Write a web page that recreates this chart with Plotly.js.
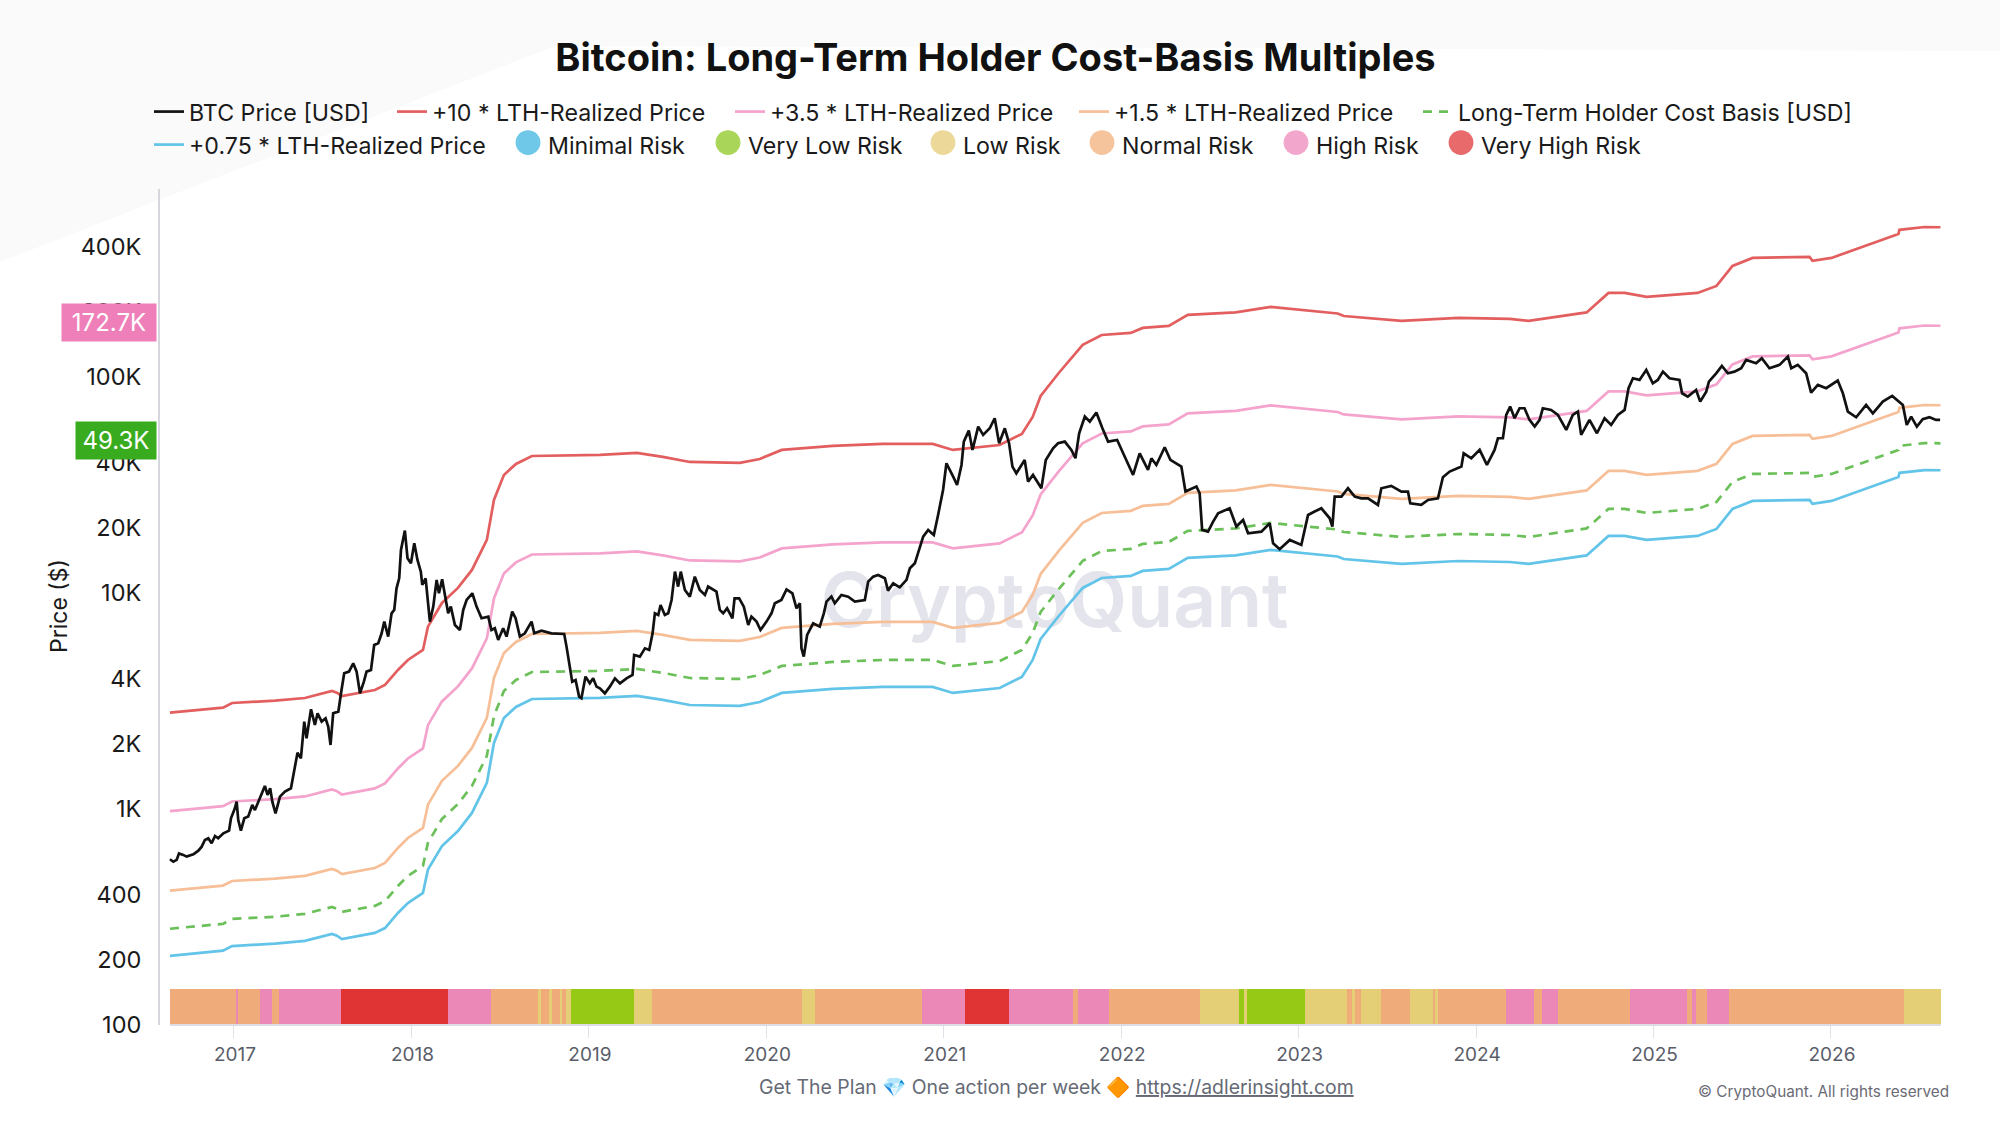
<!DOCTYPE html>
<html>
<head>
<meta charset="utf-8">
<title>Bitcoin: Long-Term Holder Cost-Basis Multiples</title>
<script src="https://cdn.plot.ly/plotly-3.0.1.min.js"></script>
<style>
    html, body { margin: 0; padding: 0; background: #ffffff; }
    #chart { width: 2000px; height: 1125px; }
</style>
</head>
<body>
<div id="chart"></div>
<script>
// x values are decimal years
const lthYears = [2016.639, 2016.938, 2016.989, 2017.231, 2017.400, 2017.552, 2017.580, 2017.608, 2017.794, 2017.851, 2017.924, 2017.980, 2018.065, 2018.093, 2018.172, 2018.262, 2018.341, 2018.425, 2018.465, 2018.521, 2018.589, 2018.679, 2019.062, 2019.270, 2019.417, 2019.569, 2019.851, 2019.963, 2020.087, 2020.375, 2020.656, 2020.938, 2021.051, 2021.315, 2021.440, 2021.501, 2021.546, 2021.648, 2021.783, 2021.890, 2022.054, 2022.121, 2022.268, 2022.375, 2022.645, 2022.842, 2023.220, 2023.254, 2023.580, 2023.900, 2024.190, 2024.296, 2024.623, 2024.746, 2024.837, 2024.961, 2025.248, 2025.355, 2025.445, 2025.558, 2025.879, 2025.896, 2026.003, 2026.380, 2026.386, 2026.527, 2026.617];

const plus10 = [2791, 2944, 3095, 3172, 3265, 3517, 3454, 3335, 3556, 3750, 4400, 4896, 5448, 6983, 8990, 10550, 12780, 17600, 26950, 35180, 39560, 43060, 43550, 44500, 42660, 40400, 39990, 41700, 45930, 47930, 48960, 48960, 45930, 48420, 54460, 65280, 81660, 104300, 140700, 156400, 159900, 168600, 172200, 193700, 198900, 210900, 196600, 191500, 181700, 187500, 185500, 181700, 198900, 244900, 244900, 234600, 244900, 263900, 326600, 355600, 359400, 344700, 355600, 459200, 479600, 494300, 493000];

const plus35 = [977, 1030, 1083, 1110, 1143, 1231, 1209, 1167, 1245, 1313, 1540, 1714, 1907, 2444, 3147, 3693, 4473, 6160, 9433, 12310, 13850, 15070, 15240, 15580, 14930, 14140, 14000, 14600, 16080, 16780, 17140, 17140, 16080, 16950, 19060, 22850, 28580, 36510, 49250, 54740, 55970, 59010, 60270, 67800, 69620, 73820, 68810, 67030, 63600, 65630, 64930, 63600, 69620, 85720, 85720, 82110, 85720, 92370, 114300, 124500, 125800, 120600, 124500, 160700, 167900, 173000, 172600];

const plus15 = [419, 442, 464, 476, 490, 528, 518, 500, 533, 563, 660, 734, 817, 1047, 1349, 1583, 1917, 2640, 4043, 5277, 5934, 6459, 6533, 6675, 6399, 6060, 5999, 6255, 6890, 7190, 7344, 7344, 6890, 7263, 8169, 9792, 12250, 15650, 21110, 23460, 23990, 25290, 25830, 29060, 29840, 31640, 29490, 28730, 27260, 28130, 27830, 27260, 29840, 36740, 36740, 35190, 36740, 39590, 48990, 53340, 53910, 51710, 53340, 68880, 71940, 74150, 73950];

const lthCostBasis = [279, 294, 310, 317, 327, 352, 345, 334, 356, 375, 440, 490, 545, 698, 899, 1055, 1278, 1760, 2695, 3518, 3956, 4306, 4355, 4450, 4266, 4040, 3999, 4170, 4593, 4793, 4896, 4896, 4593, 4842, 5446, 6528, 8166, 10430, 14070, 15640, 15990, 16860, 17220, 19370, 19890, 21090, 19660, 19150, 18170, 18750, 18550, 18170, 19890, 24490, 24490, 23460, 24490, 26390, 32660, 35560, 35940, 34470, 35560, 45920, 47960, 49430, 49300];

const plus075 = [209, 221, 232, 238, 245, 264, 259, 250, 267, 281, 330, 367, 409, 524, 674, 791, 959, 1320, 2021, 2639, 2967, 3230, 3266, 3338, 3200, 3030, 2999, 3128, 3445, 3595, 3672, 3672, 3445, 3632, 4085, 4896, 6125, 7823, 10550, 11730, 11990, 12650, 12920, 14530, 14920, 15820, 14750, 14360, 13630, 14060, 13910, 13630, 14920, 18370, 18370, 17600, 18370, 19790, 24500, 26670, 26960, 25850, 26670, 34440, 35970, 37070, 36980];

const btcYears = [2016.639, 2016.658, 2016.677, 2016.690, 2016.714, 2016.733, 2016.771, 2016.799, 2016.818, 2016.836, 2016.855, 2016.874, 2016.893, 2016.911, 2016.940, 2016.972, 2016.983, 2017.005, 2017.015, 2017.024, 2017.039, 2017.058, 2017.080, 2017.103, 2017.118, 2017.146, 2017.174, 2017.189, 2017.204, 2017.216, 2017.234, 2017.259, 2017.287, 2017.321, 2017.340, 2017.358, 2017.377, 2017.396, 2017.409, 2017.434, 2017.456, 2017.471, 2017.494, 2017.516, 2017.531, 2017.544, 2017.559, 2017.588, 2017.606, 2017.621, 2017.648, 2017.672, 2017.691, 2017.710, 2017.732, 2017.747, 2017.772, 2017.790, 2017.813, 2017.832, 2017.847, 2017.869, 2017.888, 2017.903, 2017.916, 2017.931, 2017.941, 2017.963, 2017.978, 2017.997, 2018.016, 2018.034, 2018.053, 2018.061, 2018.080, 2018.104, 2018.123, 2018.142, 2018.155, 2018.173, 2018.207, 2018.222, 2018.245, 2018.273, 2018.292, 2018.311, 2018.343, 2018.367, 2018.395, 2018.433, 2018.451, 2018.470, 2018.489, 2018.517, 2018.536, 2018.568, 2018.587, 2018.611, 2018.639, 2018.677, 2018.692, 2018.733, 2018.789, 2018.861, 2018.874, 2018.893, 2018.906, 2018.925, 2018.945, 2018.958, 2018.981, 2019.005, 2019.024, 2019.043,
    2019.062, 2019.090, 2019.118, 2019.147, 2019.175, 2019.212, 2019.246, 2019.255, 2019.287, 2019.316, 2019.340, 2019.359, 2019.372, 2019.391, 2019.404, 2019.428, 2019.447, 2019.466, 2019.485, 2019.503, 2019.518, 2019.541, 2019.569, 2019.597, 2019.625, 2019.654, 2019.672, 2019.719, 2019.738, 2019.757, 2019.779, 2019.809, 2019.821, 2019.847, 2019.873, 2019.898, 2019.916, 2019.945, 2019.967, 2020.001, 2020.029, 2020.048, 2020.085, 2020.114, 2020.147, 2020.170, 2020.189, 2020.198, 2020.211, 2020.230, 2020.264, 2020.301, 2020.324, 2020.339, 2020.367, 2020.386, 2020.423, 2020.461, 2020.499, 2020.555, 2020.574, 2020.602, 2020.630, 2020.668, 2020.686, 2020.715, 2020.752, 2020.790, 2020.809, 2020.837, 2020.856, 2020.884, 2020.912, 2020.944, 2020.968, 2020.996, 2021.015, 2021.030, 2021.053, 2021.075, 2021.100, 2021.113, 2021.141, 2021.162, 2021.194, 2021.222, 2021.259, 2021.287, 2021.312, 2021.344, 2021.368, 2021.387, 2021.409, 2021.456, 2021.475, 2021.503, 2021.550,
    2021.575, 2021.616, 2021.644, 2021.682, 2021.719, 2021.742, 2021.763, 2021.795, 2021.823, 2021.860, 2021.894, 2021.926, 2021.977, 2022.025, 2022.067, 2022.104, 2022.151, 2022.170, 2022.198, 2022.245, 2022.277, 2022.339, 2022.362, 2022.424, 2022.442, 2022.456, 2022.489, 2022.518, 2022.546, 2022.611, 2022.649, 2022.687, 2022.715, 2022.790, 2022.837, 2022.856, 2022.893, 2022.950, 2023.015, 2023.034, 2023.053, 2023.090, 2023.128, 2023.175, 2023.190, 2023.203, 2023.241, 2023.278, 2023.316, 2023.353, 2023.391, 2023.447, 2023.466, 2023.522, 2023.579, 2023.616, 2023.629, 2023.691, 2023.729, 2023.785, 2023.813, 2023.851, 2023.917, 2023.930, 2023.973, 2024.020, 2024.061,
    2024.085, 2024.104, 2024.123, 2024.151, 2024.170, 2024.192, 2024.217, 2024.245, 2024.273, 2024.301, 2024.330, 2024.358, 2024.376, 2024.423, 2024.461, 2024.508, 2024.545, 2024.574, 2024.592, 2024.639, 2024.681, 2024.724, 2024.761, 2024.799, 2024.837, 2024.859, 2024.884, 2024.921, 2024.959, 2024.996, 2025.024, 2025.053, 2025.090, 2025.146, 2025.161, 2025.193, 2025.240, 2025.263, 2025.297, 2025.312, 2025.353, 2025.385, 2025.419, 2025.456, 2025.494, 2025.522, 2025.578, 2025.610, 2025.653, 2025.710, 2025.757, 2025.776, 2025.813, 2025.860, 2025.888, 2025.926, 2025.973, 2026.038, 2026.067, 2026.095, 2026.142, 2026.198, 2026.236, 2026.292, 2026.345, 2026.405, 2026.427, 2026.452, 2026.484, 2026.517, 2026.555, 2026.592, 2026.615];

const btcPrice = [585, 570, 581, 623, 613, 602, 617, 641, 669, 719, 732, 694, 750, 732, 772, 794, 905, 1007, 1082, 889, 794, 905, 922, 1044, 989, 1120, 1278, 1161, 1247, 1082, 955, 1141, 1203, 1247, 1489, 1823, 1716, 2538, 2124, 2894, 2449, 2773, 2538, 2629, 2406, 1978, 2773, 2823, 3556, 4247, 4323, 4724, 4323, 3431, 3887, 4323, 4401, 5745, 5848, 6505, 7368, 6281, 8052, 8343, 10510, 11690, 15820, 19440, 14470, 13720, 16980, 14220, 12550, 10890, 11690, 7368, 8645, 11490, 9966, 11570, 8052, 8645, 7110, 6741, 8343, 9281, 9966, 8645, 7637, 7772, 6741, 6862, 6060, 6862, 6281, 8197, 7637, 6281, 6505, 7368, 6505, 6694, 6505, 6460, 5644, 4560, 3887, 3957, 3313, 3255, 4100, 3817, 4027, 3684,
    3619, 3431, 3683, 4026, 3816, 4026, 4172, 5164, 5073, 5544, 5447, 6503, 8050, 7908, 8799, 7908, 8050, 9281, 12550, 10700, 12550, 10320, 9616, 11900, 10320, 9787, 10700, 10140, 8343, 8050, 8492, 7635, 9447, 9447, 8643, 7110, 7772, 7368, 6741, 7368, 8050, 8957, 9281, 10390, 9964, 8492, 8957, 5544, 5073, 6391, 7238, 6986, 8050, 9120, 9616, 8957, 9787, 9616, 9120, 9281, 11290, 11900, 12120, 11700, 10250, 11090, 10620, 11490, 13010, 13720, 15270, 18240, 19580, 18560, 22970, 29990, 39840, 37780, 34570, 31620, 39130, 50190, 56440, 45920, 58900, 53900, 57850, 64380, 49330, 57850, 49330, 38450, 35810, 41290, 32770, 35180, 30520,
    41290, 46750, 49330, 50190, 45940, 42030, 54860, 65540, 62120, 68390, 57860, 50190, 51090, 42030, 35180, 44320, 37110, 42030, 39130, 47250, 41290, 38450, 29460, 31070, 28940, 19580, 19230, 21390, 23390, 24660, 20290, 21780, 18890, 19230, 21020, 16980, 15930, 17600, 16680, 19580, 22970, 23810, 24660, 22170, 20290, 27930, 27930, 30520, 27930, 27430, 27430, 25560, 30520, 31290, 29460, 29460, 26010, 25560, 26950, 27430, 34320, 36460, 38450, 44320, 42030, 45940, 39130,
    42790, 45940, 52010, 52010, 66710, 72910, 64400, 71610, 71610, 63240, 58900, 63240, 71610, 70350, 66710, 56860, 66710, 69110, 53900, 63240, 54870, 64400, 59950, 66710, 70350, 88650, 98600, 96860, 107800, 93480, 96860, 105800, 98600, 96860, 84010, 81090, 87050, 76880, 85530, 95130, 103990, 112400, 103990, 105800, 109700, 119900, 115700, 122000, 109700, 113700, 124200, 109700, 113700, 103990, 84610, 91840, 88650, 96180, 84010, 69110, 65060, 74200, 67890, 76880, 81670, 74200, 59950, 65540, 58900, 63690, 65060, 63240, 63240];

// risk strip: each segment starts at riskStarts[i], ends at riskStarts[i + 1]
const riskStarts = [2016.641, 2017.015, 2017.022, 2017.148, 2017.216, 2017.255, 2017.604, 2018.204, 2018.449, 2018.718, 2018.729, 2018.779, 2018.790, 2018.836, 2018.851, 2018.872, 2018.897, 2019.253, 2019.358, 2020.202, 2020.274, 2020.877, 2021.118, 2021.369, 2021.729, 2021.754, 2021.930, 2022.444, 2022.663, 2022.692, 2022.710, 2023.033, 2023.274, 2023.303, 2023.317, 2023.353, 2023.464, 2023.626, 2023.759, 2023.773, 2023.784, 2024.169, 2024.327, 2024.370, 2024.463, 2024.866, 2025.189, 2025.214, 2025.239, 2025.300, 2025.426, 2026.414, 2026.619];
const riskLevels = ["Normal", "High", "Normal", "High", "Normal", "High", "VeryHigh", "High", "Normal", "Low", "Normal", "Low", "Normal", "Low", "Normal", "Low", "VeryLow", "Low", "Normal", "Low", "Normal", "High", "VeryHigh", "High", "Normal", "High", "Normal", "Low", "VeryLow", "Low", "VeryLow", "Low", "Normal", "Low", "Normal", "Low", "Normal", "Low", "Normal", "Low", "Normal", "High", "Normal", "High", "Normal", "High", "Normal", "High", "Normal", "High", "Normal", "Low"];
const riskStripColours = { VeryLow: "#96c916", Low: "#e4cf76", Normal: "#efac7a", High: "#ec88b8", VeryHigh: "#e03333" };
const riskBase = 100;
const riskHeight = 46.8;

const yTickVals = [100, 200, 400, 1000, 2000, 4000, 10000, 20000, 40000, 100000, 200000, 400000];
const yTickText = ["100", "200", "400", "1K", "2K", "4K", "10K", "20K", "40K", "100K", "200K", "400K"];
const xTickVals = [2017, 2018, 2019, 2020, 2021, 2022, 2023, 2024, 2025, 2026];

const lineNames = ["BTC Price [USD]", "+10 * LTH-Realized Price", "+3.5 * LTH-Realized Price", "+1.5 * LTH-Realized Price", "Long-Term Holder Cost Basis [USD]", "+0.75 * LTH-Realized Price"];
const lineColours = ["#111111", "#e35f5f", "#f4a3cd", "#f6bf98", "#6cc05a", "#62c4e8"];
const riskNames = ["Minimal Risk", "Very Low Risk", "Low Risk", "Normal Risk", "High Risk", "Very High Risk"];
const riskLegendColours = ["#6fc8e8", "#a9d558", "#ecd898", "#f5c49c", "#f3a6cc", "#e86a6a"];

// left edge of each legend entry and its row, in page pixels
const legendLeft = [149, 392, 730, 1074, 1418, 149, 508, 708, 923, 1082, 1276, 1441];
const legendRow = [112, 112, 112, 112, 112, 145, 145, 145, 145, 145, 145, 145];

const plotLeft = 160, plotRight = 1941, plotTop = 189, plotBottom = 1025;
const paperX = px => (px - plotLeft) / (plotRight - plotLeft);
const paperY = py => (plotBottom - py) / (plotBottom - plotTop);

function legendId(i) {
    return i === 0 ? "legend" : "legend" + (i + 1);
}

function createChart() {
    const watermark = {
        type: "scatter",
        mode: "text",
        x: [2021.625],
        y: [8500],
        text: ["CryptoQuant"],
        textposition: "middle center",
        textfont: { family: "Inter", size: 75, color: "#e4e4ec", weight: 600 },
        showlegend: false,
        hoverinfo: "skip"
    };

    const riskStrip = {
        type: "bar",
        x: riskLevels.map((_, i) => (riskStarts[i] + riskStarts[i + 1]) / 2),
        y: riskLevels.map(() => riskHeight),
        base: riskBase,
        width: riskLevels.map((_, i) => riskStarts[i + 1] - riskStarts[i]),
        marker: { color: riskLevels.map(level => riskStripColours[level]), line: { width: 0 } },
        showlegend: false,
        hoverinfo: "skip"
    };

    const lineX = [btcYears, lthYears, lthYears, lthYears, lthYears, lthYears];
    const lineY = [btcPrice, plus10, plus35, plus15, lthCostBasis, plus075];
    // black line sits on top of the others in the reference
    const lineTraces = lineNames.map((name, i) => ({
        type: "scatter",
        mode: "lines",
        name: name,
        x: lineX[i],
        y: lineY[i],
        line: { color: lineColours[i], width: 2.7, dash: i === 4 ? "9px,7px" : "solid" },
        legend: legendId(i),
        hoverinfo: "skip"
    }));

    const riskLegendTraces = riskNames.map((name, i) => ({
        type: "scatter",
        mode: "markers",
        name: name,
        x: [null],
        y: [null],
        marker: { color: riskLegendColours[i], size: 16 },
        legend: legendId(i + lineNames.length),
        hoverinfo: "skip"
    }));

    const data = [watermark, riskStrip, ...lineTraces.slice(1), lineTraces[0], ...riskLegendTraces];

    const layout = {
        width: 2000,
        height: 1125,
        margin: { l: plotLeft, r: 2000 - plotRight, t: plotTop, b: 1125 - plotBottom, autoexpand: false },
        paper_bgcolor: "#ffffff",
        plot_bgcolor: "rgba(0,0,0,0)",
        font: { family: "Inter", color: "#1a1a1a" },
        bargap: 0,
        title: {
            text: "<b>Bitcoin: Long-Term Holder Cost-Basis Multiples</b>",
            font: { family: "Inter", size: 38, color: "#111111" },
            xref: "container",
            yref: "container",
            x: 995.5 / 2000,
            y: 1 - 58 / 1125,
            xanchor: "center",
            yanchor: "middle"
        },
        xaxis: {
            type: "linear",
            range: [2016.583, 2026.62],
            tickvals: xTickVals,
            ticktext: xTickVals.map(String),
            ticks: "outside",
            ticklen: 12,
            tickwidth: 1,
            tickcolor: "#dfe0e8",
            ticklabelshift: 1,
            tickfont: { family: "Inter", size: 19, color: "#5a5d69" },
            showgrid: false,
            zeroline: false,
            showline: false
        },
        yaxis: {
            type: "log",
            range: [2, 5.87],
            tickvals: yTickVals,
            ticktext: yTickText,
            ticks: "outside",
            ticklen: 12,
            tickcolor: "rgba(0,0,0,0)",
            tickfont: { family: "Inter", size: 23.5, color: "#1a1a1a" },
            showgrid: false,
            zeroline: false,
            showline: true,
            linecolor: "#d5d6de",
            linewidth: 2
        },
        shapes: [
            { // faint backdrop polygon behind the header
                type: "path",
                xref: "paper",
                yref: "paper",
                layer: "below",
                path: `M ${paperX(0)} ${paperY(0)} L ${paperX(2000)} ${paperY(0)} L ${paperX(2000)} ${paperY(51)} L ${paperX(555)} ${paperY(46)} L ${paperX(0)} ${paperY(262)} Z`,
                fillcolor: "#fafafa",
                line: { width: 0 }
            },
            { // base line only runs under the strip
                type: "line",
                xref: "x",
                yref: "paper",
                x0: 2016.641,
                x1: 2026.619,
                y0: 0,
                y1: 0,
                line: { color: "#dcdde5", width: 2 }
            }
        ],
        annotations: [
            { // yaxis.title lands mid-plot with these margins, so it goes here
                xref: "paper",
                yref: "paper",
                x: paperX(59),
                y: paperY(606),
                xanchor: "center",
                yanchor: "middle",
                textangle: -90,
                text: "Price ($)",
                showarrow: false,
                font: { family: "Inter", size: 23, color: "#1a1a1a" }
            },
            {
                xref: "paper",
                yref: "y",
                x: paperX(157),
                y: Math.log10(172700),
                yshift: 3,
                xanchor: "right",
                text: "172.7K",
                width: 94,
                height: 37,
                borderpad: 0,
                bgcolor: "#ee7fb8",
                showarrow: false,
                font: { family: "Inter", size: 24, color: "#ffffff" }
            },
            {
                xref: "paper",
                yref: "y",
                x: paperX(157),
                y: Math.log10(49300),
                yshift: 3,
                xanchor: "right",
                text: "49.3K",
                width: 80,
                height: 37,
                borderpad: 0,
                bgcolor: "#38ab1e",
                showarrow: false,
                font: { family: "Inter", size: 24, color: "#ffffff" }
            },
            {
                xref: "paper",
                yref: "paper",
                x: paperX(1056),
                y: paperY(1087),
                xanchor: "center",
                yanchor: "middle",
                text: "Get The Plan 💎 One action per week 🔶 <u>https://adlerinsight.com</u>",
                showarrow: false,
                font: { family: "Inter", size: 19.4, color: "#666a75" }
            },
            {
                xref: "paper",
                yref: "paper",
                x: paperX(1951),
                y: paperY(1091),
                xanchor: "right",
                yanchor: "middle",
                text: "© CryptoQuant. All rights reserved",
                showarrow: false,
                font: { family: "Inter", size: 15.3, color: "#6b6b76" }
            }
        ]
    };

    legendLeft.forEach((left, i) => {
        layout[legendId(i)] = {
            xref: "container",
            yref: "container",
            x: left / 2000,
            y: 1 - legendRow[i] / 1125,
            xanchor: "left",
            yanchor: "middle",
            itemwidth: 30,
            bgcolor: "rgba(0,0,0,0)",
            font: { family: "Inter", size: 23.2, color: "#1a1a1a" }
        };
    });

    Plotly.newPlot("chart", data, layout, { displayModeBar: false }).then(() => {
        // plotly caps legend markers at 16px, the risk dots are bigger
        document.querySelectorAll(".legendpoints path.scatterpts").forEach(dot => {
            dot.setAttribute("transform", (dot.getAttribute("transform") || "") + " translate(0,-2) scale(1.55)");
        });
    });
}

document.addEventListener("DOMContentLoaded", createChart);
</script>
</body>
</html>
